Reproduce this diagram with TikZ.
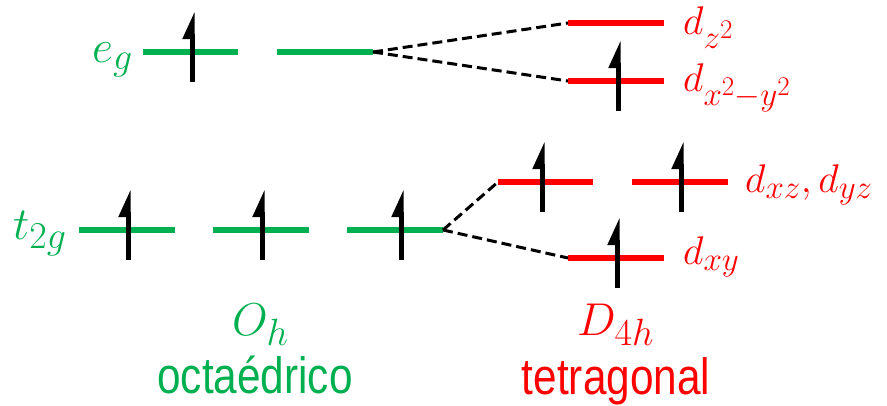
\RequirePackage{fix-cm}
\documentclass[tikz,border=0pt]{standalone}
\usepackage{fontspec}
\usepackage{graphicx}
\usetikzlibrary{arrows.meta}
\newfontfamily\arialfont{Liberation Sans}
\definecolor{ogreen}{HTML}{00B050}
\definecolor{dred}{HTML}{FF0000}
\DeclareMathSizes{46}{46}{38}{30}
\DeclareMathSizes{40}{40}{33}{27}
\begin{document}
\begin{tikzpicture}[x=1pt,y=-1pt,
 glevel/.style={draw=ogreen,line width=6pt},
 rlevel/.style={draw=dred,line width=6pt},
 split/.style={draw=black,line width=3pt,dash pattern=on 10pt off 5pt},
 spin/.style={draw=black,line width=5pt,-{Triangle[harpoon,length=22pt,width=18pt]}},
 biglab/.style={anchor=base west,inner sep=0pt,font=\fontsize{46}{50}\selectfont},
 smalllab/.style={anchor=base west,inner sep=0pt,font=\fontsize{40}{44}\selectfont,text=dred},
 namelab/.style={anchor=base,inner sep=0pt,text height=38pt,text depth=10pt,font=\arialfont\fontsize{51}{55}\selectfont}]
\useasboundingbox (0,0) rectangle (887,406);
% level end points
\coordinate (eg1a) at (143,52); \coordinate (eg1b) at (238,52);
\coordinate (eg2a) at (277,52); \coordinate (eg2b) at (373,52);
\coordinate (dz2a) at (568,23); \coordinate (dz2b) at (664,23);
\coordinate (dx2a) at (568,81); \coordinate (dx2b) at (664,81);
\coordinate (t1a) at (79,230);  \coordinate (t1b) at (175,230);
\coordinate (t2a) at (213,230); \coordinate (t2b) at (309,230);
\coordinate (t3a) at (347,230); \coordinate (t3b) at (443,230);
\coordinate (dxza) at (498,182); \coordinate (dxzb) at (593,182);
\coordinate (dyza) at (632,182); \coordinate (dyzb) at (728,182);
\coordinate (dxya) at (568,258); \coordinate (dxyb) at (664,258);
% levels
\draw[glevel] (eg1a) -- (eg1b);
\draw[glevel] (eg2a) -- (eg2b);
\draw[glevel] (t1a) -- (t1b);
\draw[glevel] (t2a) -- (t2b);
\draw[glevel] (t3a) -- (t3b);
\draw[rlevel] (dz2a) -- (dz2b);
\draw[rlevel] (dx2a) -- (dx2b);
\draw[rlevel] (dxza) -- (dxzb);
\draw[rlevel] (dyza) -- (dyzb);
\draw[rlevel] (dxya) -- (dxyb);
% splitting connectors
\draw[split] (eg2b) -- (dz2a);
\draw[split] (eg2b) -- (dx2a);
\draw[split] (t3b) -- (dxza);
\draw[split] (t3b) -- (dxya);
% spins
\coordinate (s1b) at (192,82);  \coordinate (s1t) at (192,11);
\coordinate (s2b) at (618,111); \coordinate (s2t) at (618,40);
\coordinate (s3b) at (128,260); \coordinate (s3t) at (128,189);
\coordinate (s4b) at (262,260); \coordinate (s4t) at (262,189);
\coordinate (s5b) at (401,260); \coordinate (s5t) at (401,189);
\coordinate (s6b) at (542,212); \coordinate (s6t) at (542,141);
\coordinate (s7b) at (681,212); \coordinate (s7t) at (681,141);
\coordinate (s8b) at (617,288); \coordinate (s8t) at (617,217);
\foreach \s in {1,...,8} {\draw[spin] (s\s b) -- (s\s t);}
% labels
\node[biglab,text=ogreen] (leg) at (92,63) {$e_g$};
\node[biglab,text=ogreen] (lt2g) at (13,240) {$t_{2g}$};
\node[biglab,text=ogreen] (loh) at (232,335) {$O_h$};
\node[biglab,text=dred] (ld4h) at (577,335) {$D_{4h}$};
\node[smalllab] (ldz2) at (683,35) {$d_{z^2}$};
\node[smalllab] (ldx2) at (683,92) {$d_{x^2-y^2}$};
\node[smalllab] (ldxz) at (745,193) {$d_{xz},d_{yz}$};
\node[smalllab] (ldxy) at (683,265) {$d_{xy}$};
\node[namelab,text=ogreen] (loct) at (255,393) {\scalebox{0.83}[1]{octaédrico}};
\node[namelab,text=dred] (ltet) at (616,394) {\scalebox{0.83}[1]{tetragonal}};
\end{tikzpicture}
\end{document}
